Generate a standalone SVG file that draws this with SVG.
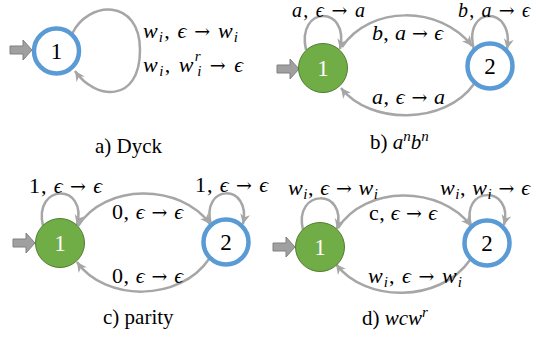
<svg xmlns="http://www.w3.org/2000/svg" width="535" height="343" viewBox="0 0 535 343">
<style>
text{font-family:"Liberation Serif","DejaVu Serif",serif;fill:#000}
.m{font-size:22px}
.top{font-size:20px}
.i{font-style:italic}
.s{font-size:15px;font-style:italic}
.ar{font-family:"DejaVu Serif",serif;font-size:19px;font-style:normal}
.cap{font-size:21px}
.n{font-size:23px;text-anchor:middle}
.acc{fill:#fff;stroke:#5B9BD5;stroke-width:4.5}
.st{fill:#70AD47;stroke:#507E32;stroke-width:1}
.e{fill:none;stroke:#A6A6A6;stroke-width:2.5;marker-end:url(#ah)}
.in{fill:#A0A0A0;stroke:#808080;stroke-width:1}
</style>
<defs>
<marker id="ah" markerUnits="userSpaceOnUse" markerWidth="12" markerHeight="12" viewBox="0 0 12 12" refX="10" refY="6" orient="auto">
<path d="M0,1 L10,6 L0,11 L3,6 Z" fill="#A6A6A6"/>
</marker>
<path id="inArrow" d="M0,-4 H13 V-10 L22,0 L13,10 V4 H0 Z"/>
</defs>

<g id="connectors">
<path class="e" d="M72,34 C88,0 140,-2 140,50 C140,104 95,100 75,71"/>
<path class="e" d="M306,50 C296,5 350,5 340,49"/>
<path class="e" d="M342,47 C370,5 440,5 472,46"/>
<path class="e" d="M474,50 C462,5 515,5 507,49"/>
<path class="e" d="M474,84 C445,125 370,125 341,88"/>
<path class="e" d="M43,226 C33,183 88,183 77,225"/>
<path class="e" d="M78,226 C105,183 180,183 210,224"/>
<path class="e" d="M211,225 C200,183 252,183 243,224"/>
<path class="e" d="M209,259 C180,302 105,302 77,262"/>
<path class="e" d="M303,230 C293,188 348,188 337,229"/>
<path class="e" d="M338,228 C365,185 440,185 471,226"/>
<path class="e" d="M471,226 C460,185 514,185 504,225"/>
<path class="e" d="M470,260 C440,303 365,303 336,264"/>
</g>

<g id="inputs">
<use href="#inArrow" class="in" transform="translate(10,50)"/>
<use href="#inArrow" class="in" transform="translate(277,69)"/>
<use href="#inArrow" class="in" transform="translate(13,243)"/>
<use href="#inArrow" class="in" transform="translate(273,247)"/>
</g>

<g id="a-node1"><circle class="acc" cx="56.5" cy="51" r="22.5"/><text class="n" x="56.5" y="59">1</text></g>
<g id="b-node1"><circle class="st" cx="323" cy="68" r="24.5"/><text class="n" x="323" y="76" style="fill:#fff">1</text></g>
<g id="b-node2"><circle class="acc" cx="490" cy="66" r="22.5"/><text class="n" x="490" y="74">2</text></g>
<g id="c-node1"><circle class="st" cx="60" cy="243" r="24.5"/><text class="n" x="60" y="251" style="fill:#fff">1</text></g>
<g id="c-node2"><circle class="acc" cx="226" cy="242" r="22.5"/><text class="n" x="226" y="250">2</text></g>
<g id="d-node1"><circle class="st" cx="320" cy="247" r="24.5"/><text class="n" x="320" y="255" style="fill:#fff">1</text></g>
<g id="d-node2"><circle class="acc" cx="487" cy="243" r="22.5"/><text class="n" x="487" y="251">2</text></g>

<g id="labels" font-family="Liberation Serif">
<text class="m" x="143" y="38" textLength="95"><tspan class="i">w</tspan><tspan class="s" dy="4">i</tspan><tspan dy="-4">, </tspan><tspan class="i">ϵ</tspan> <tspan class="ar">→</tspan> <tspan class="i">w</tspan><tspan class="s" dy="4">i</tspan></text>
<text class="m" x="143" y="72" textLength="100"><tspan class="i">w</tspan><tspan class="s" dy="4">i</tspan><tspan dy="-4">, </tspan><tspan class="i">w</tspan><tspan class="s" dy="-11">r</tspan><tspan class="s" dx="-5" dy="15">i</tspan><tspan dy="-4"> </tspan><tspan class="ar">→</tspan> <tspan class="i">ϵ</tspan></text>
<text class="cap" x="95" y="153">a) Dyck</text>

<text class="top" x="292" y="17" textLength="73"><tspan class="i">a</tspan>, <tspan class="i">ϵ</tspan> <tspan class="ar">→</tspan> <tspan class="i">a</tspan></text>
<text class="m" x="372" y="40" textLength="71"><tspan class="i">b</tspan>, <tspan class="i">a</tspan> <tspan class="ar">→</tspan> <tspan class="i">ϵ</tspan></text>
<text class="top" x="458" y="17" textLength="72"><tspan class="i">b</tspan>, <tspan class="i">a</tspan> <tspan class="ar">→</tspan> <tspan class="i">ϵ</tspan></text>
<text class="m" x="372" y="104" textLength="73"><tspan class="i">a</tspan>, <tspan class="i">ϵ</tspan> <tspan class="ar">→</tspan> <tspan class="i">a</tspan></text>
<text class="cap" x="370" y="149">b) <tspan class="i">a</tspan><tspan class="s" dy="-8">n</tspan><tspan class="i" dy="8">b</tspan><tspan class="s" dy="-8">n</tspan></text>

<text class="m" x="29" y="193" textLength="73">1, <tspan class="i">ϵ</tspan> <tspan class="ar">→</tspan> <tspan class="i">ϵ</tspan></text>
<text class="m" x="112" y="219" textLength="71">0, <tspan class="i">ϵ</tspan> <tspan class="ar">→</tspan> <tspan class="i">ϵ</tspan></text>
<text class="m" x="195" y="192" textLength="73">1, <tspan class="i">ϵ</tspan> <tspan class="ar">→</tspan> <tspan class="i">ϵ</tspan></text>
<text class="m" x="112" y="283" textLength="71">0, <tspan class="i">ϵ</tspan> <tspan class="ar">→</tspan> <tspan class="i">ϵ</tspan></text>
<text class="cap" x="103" y="324">c) parity</text>

<text class="m" x="288" y="195" textLength="90"><tspan class="i">w</tspan><tspan class="s" dy="4">i</tspan><tspan dy="-4">, </tspan><tspan class="i">ϵ</tspan> <tspan class="ar">→</tspan> <tspan class="i">w</tspan><tspan class="s" dy="4">i</tspan></text>
<text class="m" x="369" y="220" textLength="68">c, <tspan class="i">ϵ</tspan> <tspan class="ar">→</tspan> <tspan class="i">ϵ</tspan></text>
<text class="m" x="440" y="195" textLength="90"><tspan class="i">w</tspan><tspan class="s" dy="4">i</tspan><tspan dy="-4">, </tspan><tspan class="i">w</tspan><tspan class="s" dy="4">i</tspan><tspan dy="-4"> </tspan><tspan class="ar">→</tspan> <tspan class="i">ϵ</tspan></text>
<text class="m" x="368" y="283" textLength="94"><tspan class="i">w</tspan><tspan class="s" dy="4">i</tspan><tspan dy="-4">, </tspan><tspan class="i">ϵ</tspan> <tspan class="ar">→</tspan> <tspan class="i">w</tspan><tspan class="s" dy="4">i</tspan></text>
<text class="cap" x="362" y="325">d) <tspan class="i">wcw</tspan><tspan class="s" dy="-8">r</tspan></text>
</g>
</svg>
